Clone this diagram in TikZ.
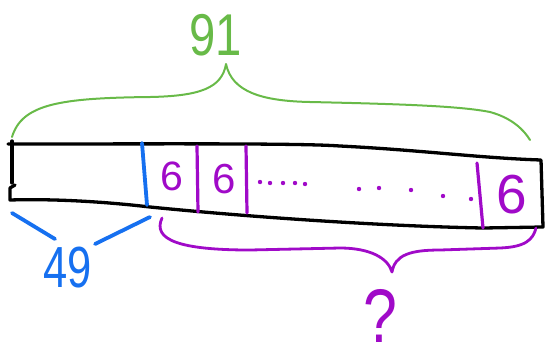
\documentclass[tikz,border=0pt]{standalone}
\usepackage{fontspec}
\setmainfont{Liberation Sans}
\definecolor{hgreen}{RGB}{104,186,72}
\definecolor{hblue}{RGB}{22,112,240}
\definecolor{hpurple}{RGB}{160,10,200}
\begin{document}
\begin{tikzpicture}[x=1pt,y=-1pt,line cap=round,line join=round,
  boxline/.style={draw=black,line width=3.3pt},
  greenbrace/.style={draw=hgreen,line width=2pt},
  purplebrace/.style={draw=hpurple,line width=2.8pt},
  bluemark/.style={draw=hblue,line width=3.8pt},
  purplemark/.style={draw=hpurple,line width=3.2pt},
  dotmark/.style={fill=hpurple,draw=none},
  hand/.style={inner sep=0pt,anchor=base}]
\useasboundingbox (0,0) rectangle (545,360);
% bar outline
\draw[boxline] (12,183) -- (12,141);
\draw[boxline] (8,144) .. controls (150,144) and (300,143) .. (340,146)
  .. controls (420,150) and (480,158) .. (541,160) -- (543,227) -- (483,228)
  .. controls (380,226) and (250,217) .. (150,207)
  .. controls (90,200) and (40,199) .. (10,200) -- (10,188) -- (15,185);
% green brace and label
\draw[greenbrace] (12,137) .. controls (22,104) and (60,98) .. (150,97)
  .. controls (200,96) and (222,88) .. (226,64)
  .. controls (232,92) and (262,101) .. (310,102)
  .. controls (400,104) and (460,106) .. (490,112)
  .. controls (512,118) and (524,130) .. (530,140);
\node[hand,text=hgreen,font=\fontsize{59}{59}\selectfont,xscale=0.8] (t91) at (216,55) {91};
% blue part
\draw[bluemark] (142,143) -- (147,205);
\draw[bluemark] (12,213) -- (55,239);
\draw[bluemark] (95,244) -- (150,217);
\node[hand,text=hblue,font=\fontsize{58}{58}\selectfont,xscale=0.75] (t49) at (68,287) {49};
% purple parts
\draw[purplemark] (197,146) -- (198,212);
\draw[purplemark] (246,146) -- (247,213);
\draw[purplemark] (477,163) -- (483,228);
\node[hand,text=hpurple,font=\fontsize{41}{41}\selectfont] (s1) at (172,190) {6};
\node[hand,text=hpurple,font=\fontsize{42}{42}\selectfont] (s2) at (224,193) {6};
\node[hand,text=hpurple,font=\fontsize{55}{55}\selectfont] (s3) at (512,213) {6};
\foreach \p in {(260,182),(270,183),(283,183),(295,183),(305,184),(359,189),(379,188),(411,190),(443,196),(471,199)}
  \fill[dotmark] \p circle (2.2);
\draw[purplebrace] (162,218) .. controls (152,240) and (180,250) .. (250,250)
  -- (340,248) .. controls (370,248) and (388,258) .. (392,272)
  .. controls (395,255) and (410,250) .. (440,250) -- (500,248)
  .. controls (525,247) and (533,240) .. (536,228);
\node[hand,text=hpurple,font=\fontsize{76}{76}\selectfont,xscale=0.8] (q) at (380,342) {?};
\end{tikzpicture}
\end{document}
